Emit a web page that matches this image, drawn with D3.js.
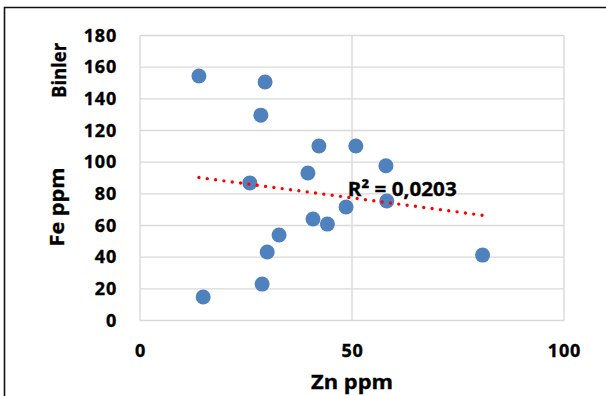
<!DOCTYPE html>
<html>
<head>
<meta charset="utf-8">
<script src="https://cdnjs.cloudflare.com/ajax/libs/d3/7.8.5/d3.min.js"></script>
<style>
  body { margin: 0; background: #fff; }
  text { font-family: "Open Sans", Lato, sans-serif; font-weight: bold; fill: #000; stroke: #000; stroke-width: 0.35px; }
</style>
</head>
<body>
<div id="chart"></div>
<script>
// Zn vs Fe values
var zn = [13.9, 29.5, 28.5, 42.2, 50.9, 58.0, 39.6, 25.9, 58.2, 48.6, 40.8, 44.2, 32.8, 30.0, 28.8, 14.9, 80.8];
var fe = [154.4, 150.6, 129.7, 110.2, 110.2, 97.7, 93.2, 86.9, 75.5, 71.7, 64.1, 60.9, 54.0, 43.3, 23.0, 14.8, 41.3];

var xTicks = [0, 50, 100];
var yTicks = [0, 20, 40, 60, 80, 100, 120, 140, 160, 180];
var r2Label = "R² = 0,0203";

var width = 606, height = 396;
var margin = {left: 140, right: 42, top: 35.5, bottom: 75.5};

var svg = d3.select("#chart").append("svg")
  .attr("width", width)
  .attr("height", height);

var x = d3.scaleLinear().domain([0, 100]).range([margin.left, width - margin.right]);
var y = d3.scaleLinear().domain([0, 180]).range([height - margin.bottom, margin.top]);

/* outer chart border (only top and left show) */
svg.append("path")
  .attr("d", `M4.5,${height} L4.5,7.5 L${width},7.5`)
  .attr("fill", "none")
  .attr("stroke", "#111")
  .attr("stroke-width", 1.6);

/* grid */
svg.append("g").selectAll("line.h")
  .data(yTicks).enter()
  .append("line")
  .attr("x1", x(0)).attr("x2", x(100))
  .attr("y1", d => y(d)).attr("y2", d => y(d))
  .attr("stroke", "#d9d9d9")
  .attr("stroke-width", 1.4);

svg.append("g").selectAll("line.v")
  .data(xTicks).enter()
  .append("line")
  .attr("x1", d => x(d)).attr("x2", d => x(d))
  .attr("y1", y(0)).attr("y2", y(180))
  .attr("stroke", "#d9d9d9")
  .attr("stroke-width", 1.4);

/* axes, labels only */
var xAxis = svg.append("g")
  .attr("transform", `translate(0,${y(0)})`)
  .call(d3.axisBottom(x).tickValues(xTicks).tickSize(0).tickPadding(24));
var yAxis = svg.append("g")
  .attr("transform", `translate(${x(0)},0)`)
  .call(d3.axisLeft(y).tickValues(yTicks).tickSize(0).tickPadding(23));
[xAxis, yAxis].forEach(g => {
  g.select(".domain").remove();
  g.selectAll("text")
    .style("font-family", "'Open Sans', sans-serif")
    .style("font-weight", "bold")
    .style("font-size", "18px")
    .style("letter-spacing", "0.8px")
    .attr("fill", "#000");
});

/* points */
var pts = zn.map((d, i) => ({zn: d, fe: fe[i]}));

svg.append("g").selectAll("circle")
  .data(pts).enter()
  .append("circle")
  .attr("cx", d => x(d.zn))
  .attr("cy", d => y(d.fe))
  .attr("r", 7.5)
  .attr("fill", "#4f81bd");

/* linear trendline (least squares) */
var mx = d3.mean(zn), my = d3.mean(fe);
var slope = d3.sum(pts, d => (d.zn - mx) * (d.fe - my)) / d3.sum(pts, d => (d.zn - mx) * (d.zn - mx));
var icpt = my - slope * mx;
var ext = d3.extent(zn);

svg.append("line")
  .attr("x1", x(ext[0])).attr("y1", y(icpt + slope * ext[0]))
  .attr("x2", x(ext[1])).attr("y2", y(icpt + slope * ext[1]))
  .attr("stroke", "#ff0000")
  .attr("stroke-width", 3.4)
  .attr("stroke-linecap", "round")
  .attr("stroke-dasharray", "0 8.4");

svg.append("text")
  .attr("x", x(49))
  .attr("y", y(78.6))
  .style("font-size", "20px")
  .attr("textLength", 109)
  .attr("lengthAdjust", "spacingAndGlyphs")
  .text(r2Label);

/* axis titles */
svg.append("text")
  .attr("x", x(50))
  .attr("y", 389)
  .attr("text-anchor", "middle")
  .style("font-size", "20px")
  .attr("textLength", 82)
  .attr("lengthAdjust", "spacingAndGlyphs")
  .text("Zn ppm");

svg.append("text")
  .attr("transform", "translate(63.5,207) rotate(-90)")
  .attr("text-anchor", "middle")
  .style("font-size", "20px")
  .attr("textLength", 79)
  .attr("lengthAdjust", "spacingAndGlyphs")
  .text("Fe ppm");

svg.append("text")
  .attr("transform", "translate(65.5,70.5) rotate(-90)")
  .attr("text-anchor", "middle")
  .style("font-size", "20px")
  .attr("textLength", 55)
  .attr("lengthAdjust", "spacingAndGlyphs")
  .text("Binler");
</script>
</body>
</html>
